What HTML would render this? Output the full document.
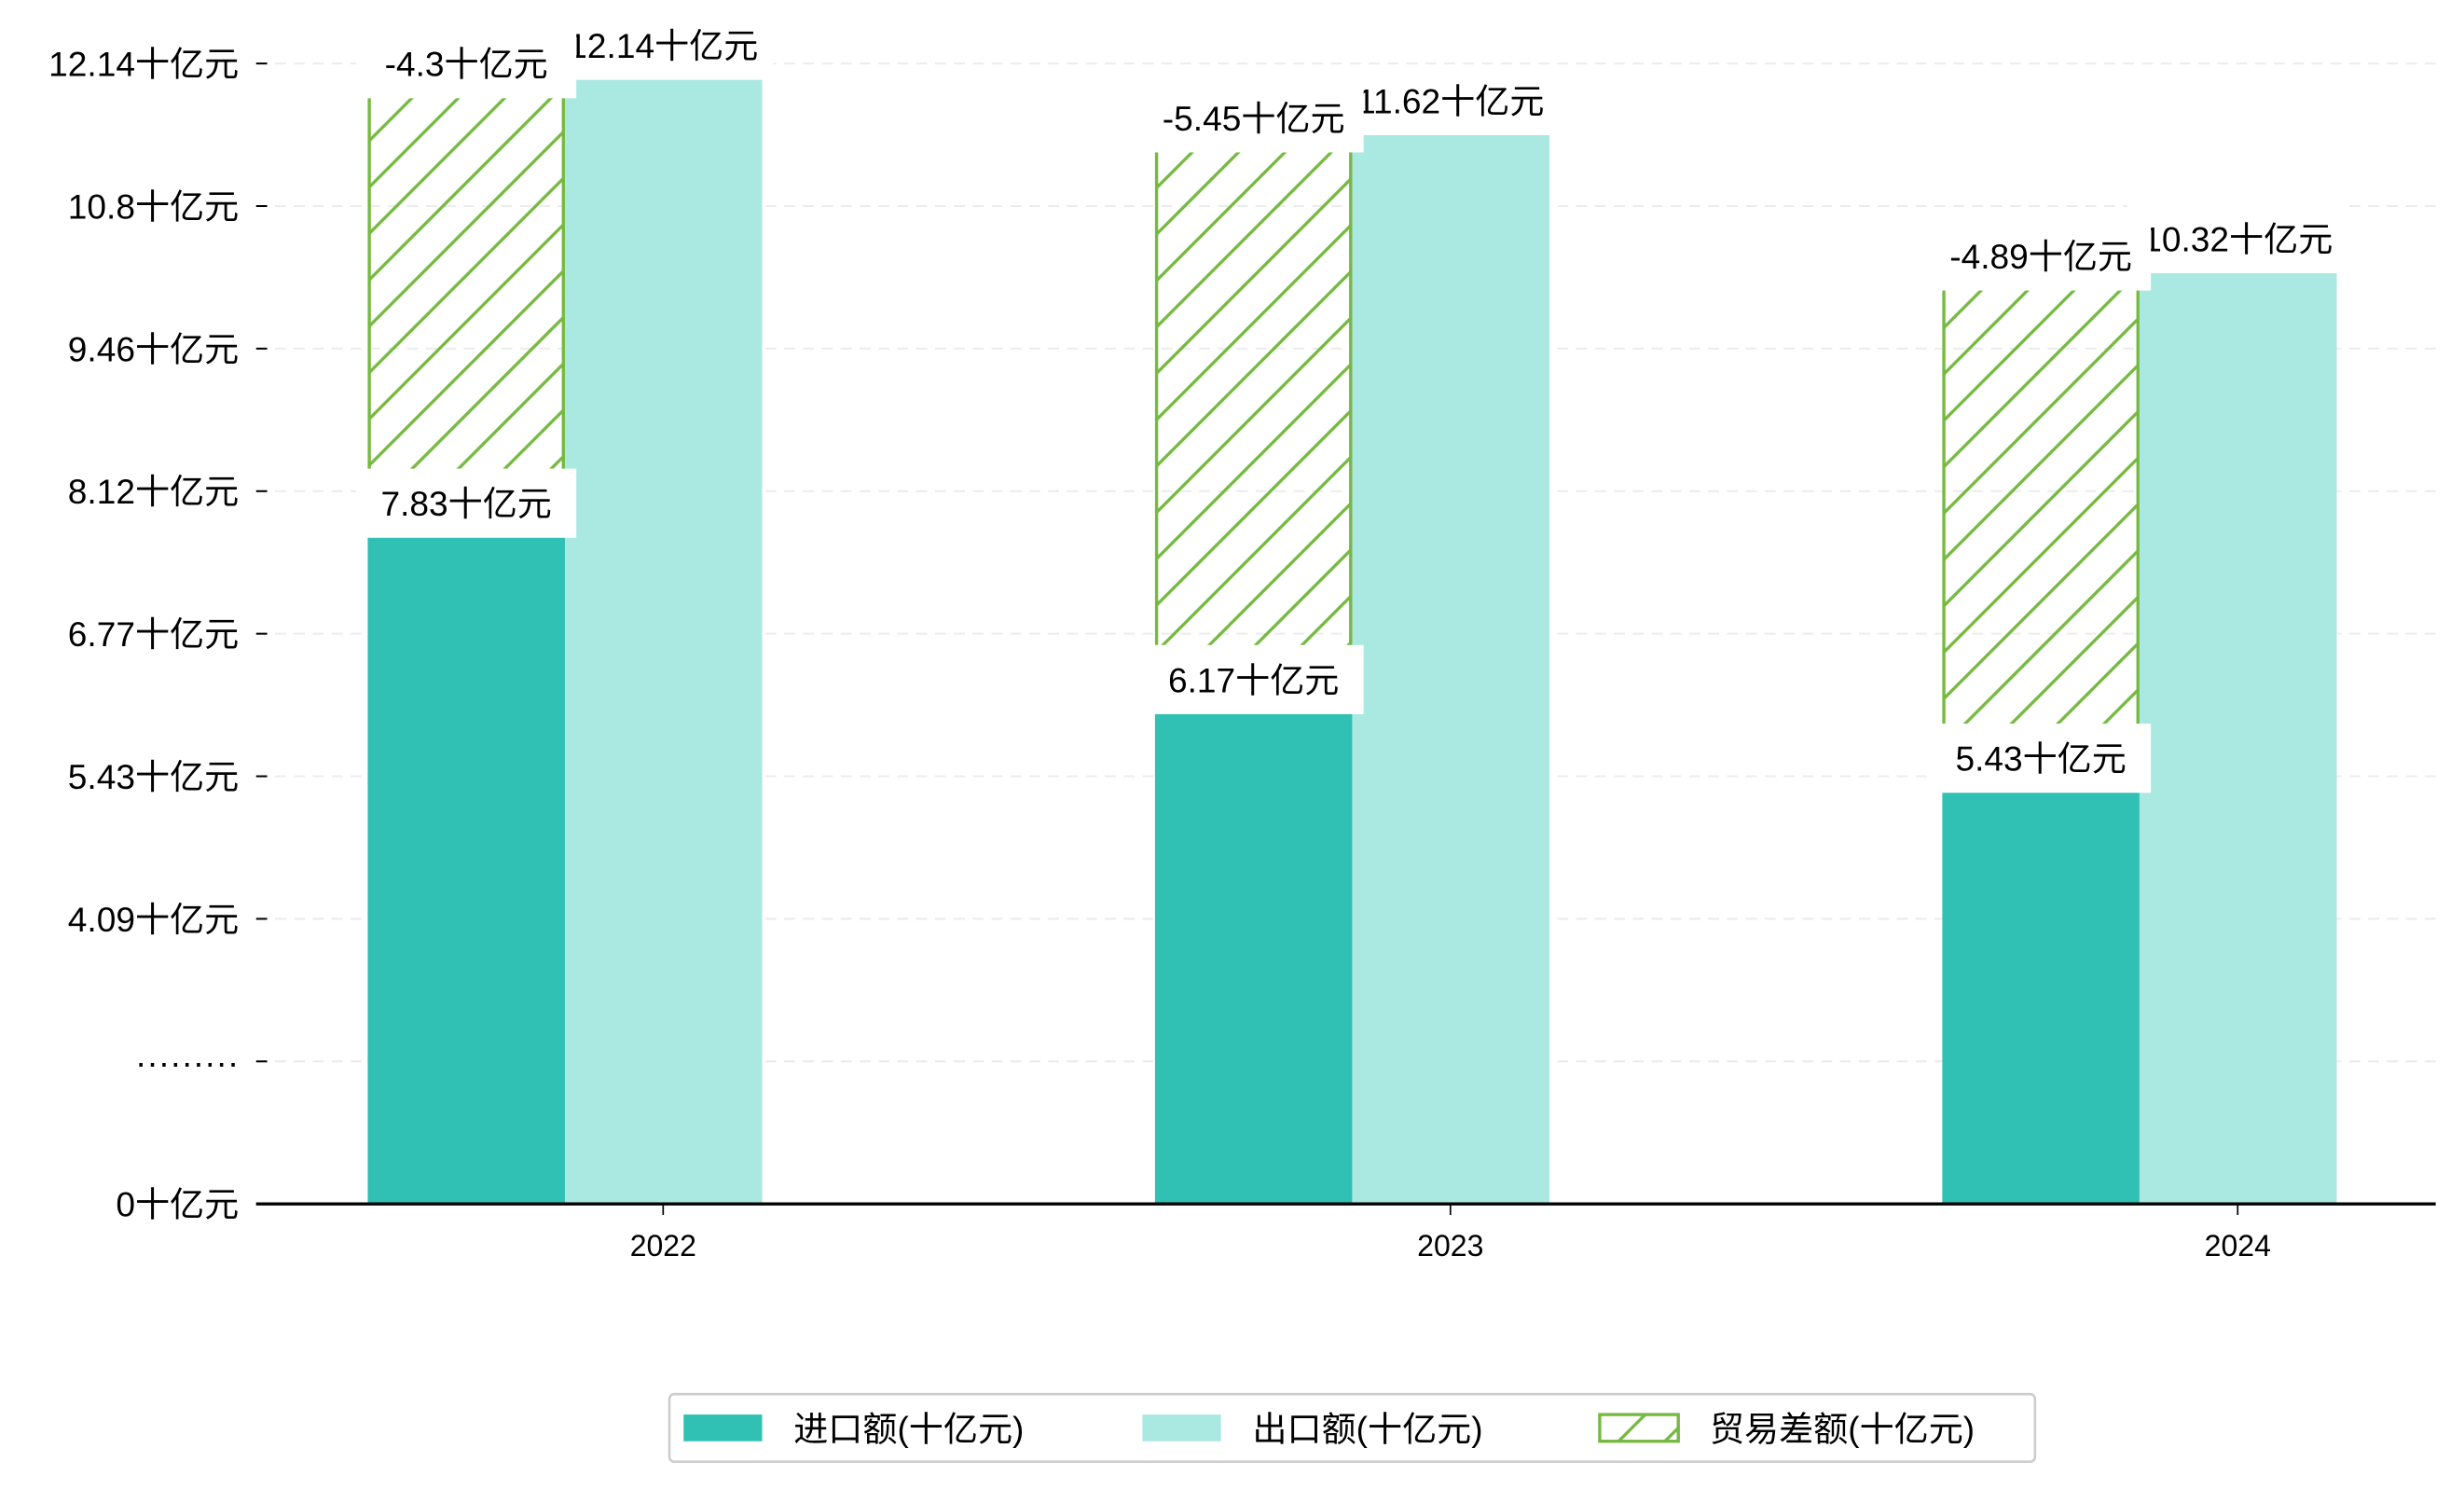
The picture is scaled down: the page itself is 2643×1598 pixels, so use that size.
<!DOCTYPE html>
<html><head><meta charset="utf-8">
<style>
html,body{margin:0;padding:0;background:#fff;}
svg{display:block;}
text{font-family:"Liberation Sans","Noto Sans CJK SC",sans-serif;fill:#000;}
</style></head>
<body>
<svg id="chart" width="2643" height="1598" viewBox="0 0 1568 948" preserveAspectRatio="none" xmlns="http://www.w3.org/2000/svg">
<defs>
<pattern id="hatch" patternUnits="userSpaceOnUse" width="29.5" height="29.5">
<line x1="-2" y1="31.5" x2="31.5" y2="-2" stroke="#76b941" stroke-width="2"/>
<line x1="-2" y1="2" x2="2" y2="-2" stroke="#76b941" stroke-width="2"/>
<line x1="27.5" y1="31.5" x2="31.5" y2="27.5" stroke="#76b941" stroke-width="2"/>
</pattern>
</defs>
<g id="grid"></g>
<g id="bars"></g>
<g id="labels"></g>
<g id="axes"></g>
<g id="legend"></g>
</svg>
<script>
const years = ["2022","2023","2024"];
const importVals = [7.83, 6.17, 5.43];
const exportVals = [12.14, 11.62, 10.32];
const diffVals = [-4.3, -5.45, -4.89];
const importLabels = ["7.83十亿元","6.17十亿元","5.43十亿元"];
const exportLabels = ["12.14十亿元","11.62十亿元","10.32十亿元"];
const diffLabels = ["-4.3十亿元","-5.45十亿元","-4.89十亿元"];
const tickLabels = ["0十亿元","·········","4.09十亿元","5.43十亿元","6.77十亿元","8.12十亿元","9.46十亿元","10.8十亿元","12.14十亿元"];

const NS="http://www.w3.org/2000/svg";
function mk(tag, attrs, parent){const e=document.createElementNS(NS,tag);for(const k in attrs)e.setAttribute(k,attrs[k]);parent.appendChild(e);return e;}
const y0=766, tickGap=90.7;
const yBreakVal=4.09, yBreakPx=584, pxPerUnit=67.6;
function yScale(v){return yBreakPx-(v-yBreakVal)*pxPerUnit;}
function xCenter(i){return 422+i*501;}
const bw=125.5;

const grid=document.getElementById('grid'), bars=document.getElementById('bars'), labels=document.getElementById('labels'), axes=document.getElementById('axes'), legend=document.getElementById('legend');

tickLabels.forEach((t,i)=>{
  const y=y0-i*tickGap;
  if(i>0){const g=mk('line',{x1:163,x2:1550,y1:y,y2:y,stroke:'#ececec','stroke-width':1.2,'stroke-dasharray':'7,5'},grid);
  
  }
  const tk=mk('line',{x1:163,x2:170,y1:y,y2:y,stroke:'#000','stroke-width':1.2},axes);
  
  
  const tx=mk('text',{x:152,y:y+8,'text-anchor':'end','font-size':22},axes);
  tx.textContent=t;
  
  
});

years.forEach((yr,i)=>{
  const c=xCenter(i);
  const ix=c-188, ex=c-62.5;
  const iy=yScale(importVals[i]), ey=yScale(exportVals[i]);
  const r1=mk('rect',{x:ix,y:iy,width:bw,height:y0-iy,fill:'#30c0b4'},bars);
  
  
  const r2=mk('rect',{x:ex,y:ey,width:bw,height:y0-ey,fill:'#aae8e2'},bars);
  
  
  const dy=yScale(importVals[i]+Math.abs(diffVals[i]));
  const r3=mk('rect',{x:ix+1,y:dy,width:bw-2,height:iy-dy,fill:'url(#hatch)',stroke:'#76b941','stroke-width':2},bars);
  
  
  const specs=[[exportLabels[i],c,ey-11,'export'],[importLabels[i],ix+bw/2,iy-11,'import'],[diffLabels[i],ix+bw/2,dy,'balance']];
  specs.forEach(s=>{
    const bx=mk('rect',{x:s[1]-70,y:s[2]-22,width:140,height:44,fill:'#fff'},labels);
    
    
    const t=mk('text',{x:s[1],y:s[2]+8,'text-anchor':'middle','font-size':22},labels);
    t.textContent=s[0];
    
    
  });
  const xt=mk('line',{x1:c,x2:c,y1:y0,y2:y0+7,stroke:'#000','stroke-width':1},axes);
  
  
  const xl=mk('text',{x:c,y:799,'text-anchor':'middle','font-size':19},axes);
  xl.textContent=yr;
  
  
});
const ax=mk('line',{x1:163,x2:1550,y1:y0,y2:y0,stroke:'#000','stroke-width':2},axes);



const lb=mk('rect',{x:426,y:887,width:869,height:43,rx:3,fill:'#fff',stroke:'#cccccc','stroke-width':1.5},legend);


const legItems=[["进口额(十亿元)",435,'#30c0b4'],["出口额(十亿元)",727,'#aae8e2'],["贸易差额(十亿元)",1018,'url(#hatch)']];
legItems.forEach((it,k)=>{
  const sw=mk('rect',{x:it[1],y:900,width:50,height:17,fill:it[2]},legend);
  if(k===2){sw.setAttribute('stroke','#76b941');sw.setAttribute('stroke-width','2');}
  
  
  const t=mk('text',{x:it[1]+70,y:917,'font-size':22},legend);
  t.textContent=it[0];
  
  
});
</script>
</body></html>
